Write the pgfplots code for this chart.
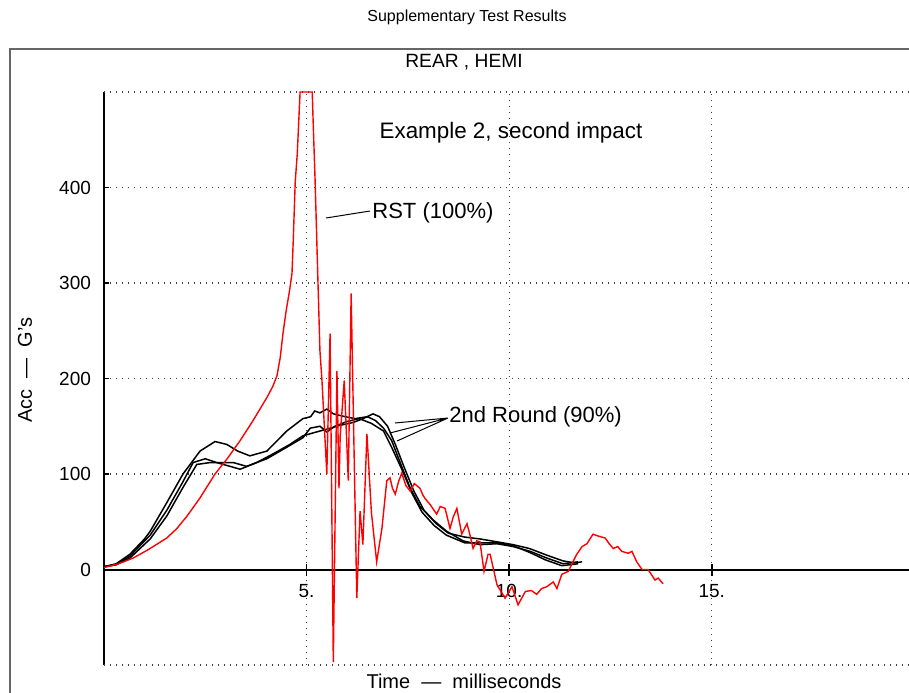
\documentclass[border=0pt]{standalone}
\usepackage{pgfplots}
\pgfplotsset{compat=1.18}
\usepackage{fontspec}
\setmainfont{Liberation Sans}

\begin{document}
\begin{tikzpicture}[x=0.5pt,y=0.5pt]
% picture laid out in reference pixels: (px, 692-py)
\useasboundingbox (0,0) rectangle (909,692);
\draw[black!60,line width=0.8pt] (10,-5) -- (10,643) -- (915,643);

\begin{axis}[
  at={(52pt,13.5pt)}, anchor=south west,
  scale only axis, width=402.5pt, height=286.5pt,
  xmin=0, xmax=19.87, ymin=-100, ymax=500,
  axis x line=middle, axis y line=left,
  axis line style={-, black, line width=1pt},
  xtick={5,10,15}, xticklabels={5.,10.,15.},
  ytick={0,100,200,300,400}, yticklabels={0,100,200,300,400},
  xtick align=center, ytick align=inside,
  major tick length=6pt,
  ytick style={/pgfplots/major tick length=2.5pt},
  tick style={black, line width=0.8pt},
  hide obscured x ticks=false, hide obscured y ticks=false,
  grid=major,
  grid style={black!75, line width=0.6pt, dash pattern=on 0.6pt off 2.4pt},
  ticklabel style={font=\fontsize{9.5}{11}\selectfont},
  /pgf/number format/assume math mode=true,
  xticklabel style={yshift=-1pt},
  yticklabel style={xshift=-3pt},
  clip=false,
]
\draw[black!75, line width=0.6pt, dash pattern=on 0.6pt off 2.4pt]
  (axis cs:0,500) -- (axis cs:19.87,500)
  (axis cs:0,-100) -- (axis cs:19.87,-100);

% 2nd Round (90%) -- three runs
\addplot[black, line width=0.75pt] coordinates {
(0,3) (0.3,6) (0.64,16) (1.0,32) (1.14,40) (1.55,70) (1.95,100) (2.37,124)
(2.74,134) (3.03,131) (3.3,124) (3.6,119) (4.02,124) (4.51,145) (4.91,158)
(5.1,160) (5.2,166) (5.33,164) (5.5,168) (5.66,163) (5.95,160) (6.2,158)
(6.5,160) (6.7,156) (6.9,148) (7.1,135) (7.31,112) (7.56,85) (7.8,66)
(8.12,52) (8.46,40) (8.86,30) (9.28,26) (9.7,27) (10.1,24) (10.52,19)
(10.93,12) (11.33,6) (11.7,8)
};
\addplot[black, line width=0.75pt] coordinates {
(0,3) (0.3,5) (0.64,14) (1.14,36) (1.55,62) (1.95,92) (2.2,112) (2.5,116)
(2.78,112) (3.36,105) (3.77,112) (4.17,121) (4.59,131) (4.91,140) (5.16,143)
(5.5,147) (5.83,151) (6.15,154) (6.4,158) (6.64,163) (6.8,160) (7.0,150)
(7.2,130) (7.4,108) (7.65,82) (7.9,62) (8.2,48) (8.5,38) (8.9,34) (9.28,32)
(9.7,29) (10.1,26) (10.5,22) (10.93,15) (11.33,9) (11.6,7) (11.8,8)
};
\addplot[black, line width=0.75pt] coordinates {
(0,3) (0.3,5) (0.64,12) (1.14,32) (1.55,56) (1.95,86) (2.29,110) (2.62,112)
(3.19,112) (3.52,108) (4.02,116) (4.51,128) (4.91,138) (5.09,148) (5.33,150)
(5.5,144) (5.7,150) (6.0,155) (6.3,158) (6.6,153) (6.9,145) (7.1,128)
(7.35,105) (7.6,80) (7.85,60) (8.15,46) (8.45,36) (8.9,28) (9.28,28) (9.7,28)
(10.1,25) (10.5,18) (10.9,10) (11.3,4) (11.7,6)
};

% RST (100%)
\addplot[red, line width=0.7pt] coordinates {
(0,2) (0.36,6) (0.72,12) (1.1,21) (1.55,33) (1.8,43) (2.05,56) (2.37,75)
(2.74,100) (3.04,116) (3.36,135) (3.68,156) (4.02,180) (4.17,192) (4.27,203)
(4.35,222) (4.42,248) (4.5,272) (4.58,292) (4.64,310) (4.67,343) (4.72,406)
(4.77,435) (4.84,500) (5.14,500) (5.16,472) (5.21,408) (5.28,303) (5.33,229)
(5.38,198) (5.5,100) (5.58,247) (5.66,-97) (5.75,208) (5.8,85) (5.83,140)
(5.93,198) (6.03,93) (6.1,289) (6.24,-30) (6.32,61) (6.39,26) (6.49,142)
(6.6,60) (6.73,8) (6.86,43) (6.98,93) (7.06,96) (7.12,85) (7.19,79)
(7.27,92) (7.35,101) (7.45,88) (7.56,82) (7.66,90) (7.8,85) (7.87,78)
(7.93,74) (8.05,68) (8.21,58) (8.3,66) (8.42,64) (8.54,43) (8.62,55)
(8.71,64) (8.83,37) (8.96,48) (9.04,35) (9.11,22) (9.2,30) (9.28,29)
(9.38,-2) (9.48,16) (9.53,16) (9.7,-16) (9.9,-30) (10.07,-18) (10.22,-37)
(10.4,-23) (10.55,-22) (10.68,-26) (10.8,-20) (10.93,-18) (11.09,-13)
(11.18,-20) (11.3,-5) (11.46,-2) (11.55,6) (11.67,16) (11.8,24) (11.92,27)
(12.07,37) (12.2,35) (12.37,33) (12.47,27) (12.57,22) (12.68,24) (12.78,19)
(12.94,17) (13.03,19) (13.15,8) (13.28,0) (13.43,0) (13.6,-11) (13.68,-9)
(13.8,-15)
};
\end{axis}

% titles and labels
\node[font=\fontsize{8}{9}\selectfont] at (467,675) {Supplementary Test Results};
\node[font=\fontsize{9.6}{11}\selectfont] at (464,630) {REAR , HEMI};
\node[font=\fontsize{10}{12}\selectfont, rotate=90] at (25,322) {Acc \ — \ G's};
\node[font=\fontsize{10}{12}\selectfont] at (464,11) {Time \ — \ milliseconds};

% annotations
\node[font=\fontsize{11.2}{13}\selectfont] at (511,559) {Example 2, second impact};
\draw[black, line width=0.5pt] (326,474) -- (370,481);
\node[font=\fontsize{11}{13}\selectfont, anchor=west, inner sep=1pt] at (370,479) {RST (100\%)};
\draw[black, line width=0.5pt] (448,274) -- (395,269) (448,274) -- (390,259) (448,274) -- (397,251);
\node[font=\fontsize{11}{13}\selectfont, anchor=west, inner sep=1pt] at (447,275) {2nd Round (90\%)};
\end{tikzpicture}
\end{document}
